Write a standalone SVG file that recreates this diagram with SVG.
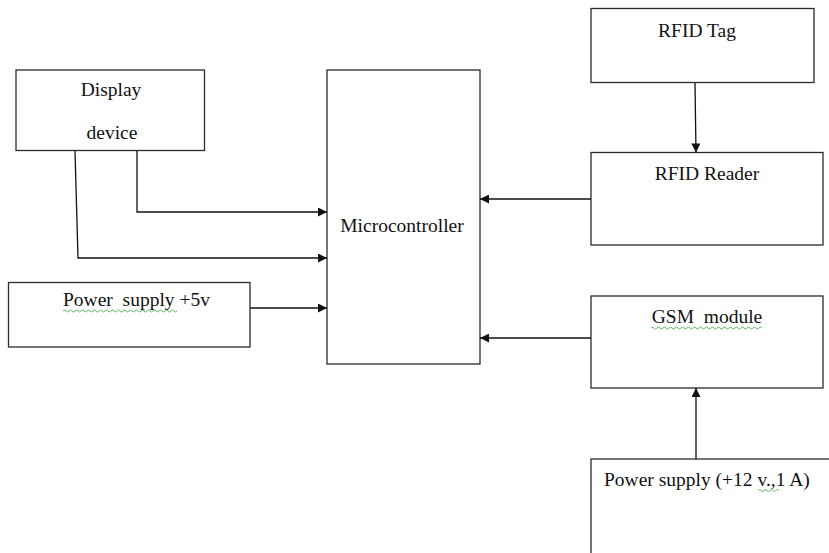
<svg xmlns="http://www.w3.org/2000/svg" width="829" height="553" viewBox="0 0 829 553">
<style>
.box{fill:#fff;stroke:#2b2b2b;stroke-width:1.3}
.lbl{font-family:"Liberation Serif","Times New Roman",serif;font-size:19.5px;fill:#111}
.con{fill:none;stroke:#111;stroke-width:1.3}
.sq{fill:none;stroke:#4caf50;stroke-width:0.9}
</style>
<defs>
<marker id="ah" viewBox="0 0 10 10" refX="10" refY="5" markerWidth="10" markerHeight="9" markerUnits="userSpaceOnUse" orient="auto">
<path d="M0,0 L10,5 L0,10 z" fill="#111"/>
</marker>
</defs>
<rect width="829" height="553" fill="#fff"/>
<g id="display">
<rect class="box" x="16" y="70" width="188.5" height="80.5"/>
<text class="lbl" x="111" y="95.5" text-anchor="middle">Display</text>
<text class="lbl" x="112" y="139" text-anchor="middle">device</text>
</g>
<g id="power5">
<rect class="box" x="8.5" y="282.5" width="241.5" height="64.5"/>
<text class="lbl" x="63" y="306" xml:space="preserve">Power  supply +5v</text>
<path class="sq" d="M63,311 q1.5,-2 3,0 t3,0 t3,0 t3,0 t3,0 t3,0 t3,0 t3,0 t3,0 t3,0 t3,0 t3,0 t3,0 t3,0 t3,0 t3,0 t3,0 t3,0 t3,0 t3,0 t3,0 t3,0 t3,0 t3,0 t3,0 t3,0 t3,0 t3,0 t3,0 t3,0 t3,0 t3,0 t3,0 t3,0 t3,0 t3,0 t3,0 t3,0"/>
</g>
<g id="mcu">
<rect class="box" x="327" y="70" width="153" height="294"/>
<text class="lbl" x="402" y="231.5" text-anchor="middle">Microcontroller</text>
</g>
<g id="rfidtag">
<rect class="box" x="591" y="8.5" width="223" height="74"/>
<text class="lbl" x="697" y="37" text-anchor="middle">RFID Tag</text>
</g>
<g id="rfidreader">
<rect class="box" x="591" y="152.5" width="232" height="92.5"/>
<text class="lbl" x="707" y="180" text-anchor="middle">RFID Reader</text>
</g>
<g id="gsm">
<rect class="box" x="591" y="296" width="232" height="92"/>
<text class="lbl" x="707" y="323" text-anchor="middle" xml:space="preserve">GSM  module</text>
<path class="sq" d="M651,328 q1.5,-2 3,0 t3,0 t3,0 t3,0 t3,0 t3,0 t3,0 t3,0 t3,0 t3,0 t3,0 t3,0 t3,0 t3,0 t3,0 t3,0 t3,0 t3,0 t3,0 t3,0 t3,0 t3,0 t3,0 t3,0 t3,0 t3,0 t3,0 t3,0 t3,0 t3,0 t3,0 t3,0 t3,0 t3,0 t3,0 t3,0 t3,0"/>
</g>
<g id="power12">
<rect class="box" x="591" y="459" width="260" height="120"/>
<text class="lbl" x="604" y="486">Power supply (+12 v.,1 A)</text>
<path class="sq" d="M758,490.5 q1.5,-2 3,0 t3,0 t3,0 t3,0 t3,0 t3,0 t3,0"/>
</g>
<g id="connectors">
<path class="con" d="M137,151 L137,212 L327,212" marker-end="url(#ah)"/>
<path class="con" d="M75,151 L78,258 L327,258" marker-end="url(#ah)"/>
<path class="con" d="M250,308 L327,308" marker-end="url(#ah)"/>
<path class="con" d="M591,199 L480,199" marker-end="url(#ah)"/>
<path class="con" d="M591,338 L480,338" marker-end="url(#ah)"/>
<path class="con" d="M695,83 L696,152.5" marker-end="url(#ah)"/>
<path class="con" d="M696,459 L696,388" marker-end="url(#ah)"/>
</g>
</svg>
